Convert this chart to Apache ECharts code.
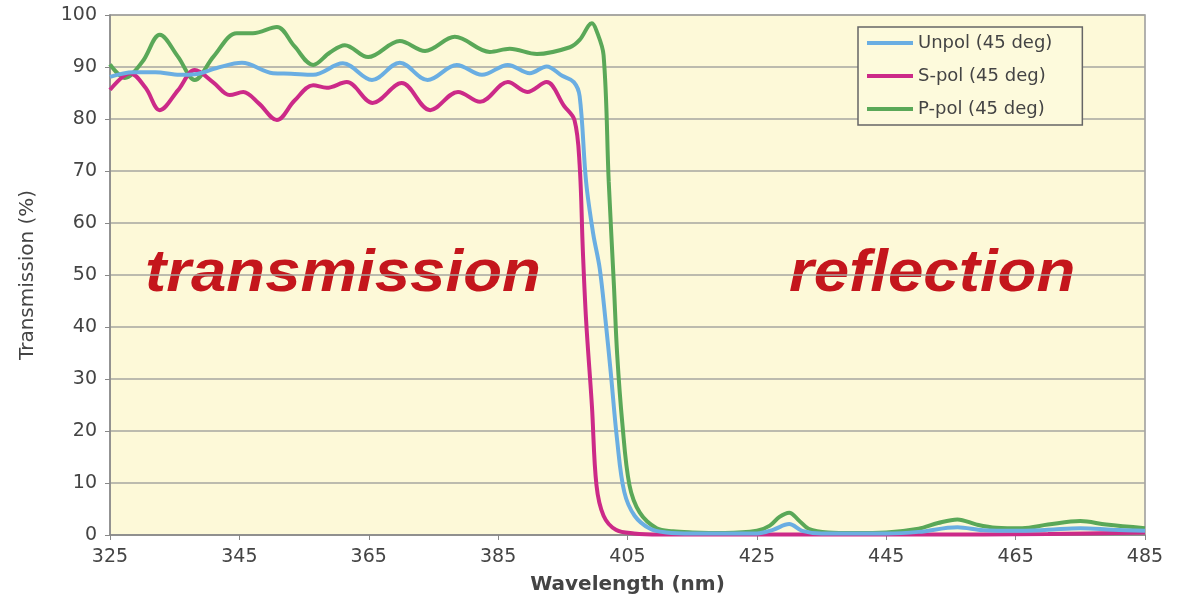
<!DOCTYPE html>
<html>
<head>
<meta charset="utf-8">
<script src="https://cdn.jsdelivr.net/npm/echarts@6/dist/echarts.min.js"></script>
<style>html,body{margin:0;padding:0;background:#fff}#c{width:1195px;height:601px}</style>
</head>
<body>
<div id="c"></div>
<script>
const X0 = 325;
const xTickLabels = [325,345,365,385,405,425,445,465,485];
const seriesNames = ['Unpol (45 deg)','S-pol (45 deg)','P-pol (45 deg)'];
const unpol = [[325,88.1],[328.6,89.0],[332,89],[335.8,88.5],[338.1,88.6],[341.5,89.8],[345.4,90.8],[350.2,88.8],[353,88.7],[356.4,88.5],[361,90.7],[365.5,87.5],[369.8,90.8],[374.1,87.5],[378.6,90.4],[382.5,88.5],[386.5,90.4],[389.9,88.8],[392.5,90.1],[394.9,88.3],[396.7,87.1],[397.6,84.4],[398.6,67.9],[399.7,57.9],[400.7,51.3],[401.6,41.3],[402.4,31.4],[403.4,18.2],[404.5,8.3],[406.1,3.7],[408.5,1.2],[411,0.5],[415,0.3],[425,0.3],[427.5,1],[430,2.1],[432,0.8],[435,0.3],[445,0.3],[450,0.6],[456,1.5],[460,0.9],[465,0.8],[470,1.0],[475,1.3],[480,1.0],[485,0.8]];
const spol = [[325,85.6],[328.1,88.8],[330.5,86],[332.7,81.7],[335.5,85.5],[338.1,89.4],[341,87],[343.5,84.6],[345.6,85.2],[348,83],[350.8,79.8],[353.5,83.5],[356.4,86.5],[358.5,86],[361.6,87.1],[365.6,83.1],[370.1,86.9],[374.5,81.7],[378.8,85.2],[382.2,83.3],[386.5,87.1],[389.5,85.2],[392.5,87.1],[395.2,82.5],[396.8,79.8],[397.6,71.2],[398.1,54.6],[398.6,41.3],[399.5,24.8],[400.2,9.6],[401.3,3.7],[403.2,1],[406,0.3],[410,0.1],[430,0.1],[450,0.1],[470,0.2],[485,0.5]];
const ppol = [[325,90.5],[327.3,87.9],[330,91],[332.7,96.2],[335.5,92],[338.1,87.5],[341,92],[344.6,96.5],[347.1,96.5],[350.8,97.7],[353.5,94],[356.4,90.4],[359,92.8],[361.3,94.2],[364.9,91.9],[369.8,95.0],[373.7,93.1],[378.3,95.8],[383.7,92.9],[386.8,93.5],[391,92.5],[396.1,93.8],[397.6,95.2],[399.5,98.4],[400.2,97],[401.3,92.3],[402.1,67.9],[402.9,48],[403.4,34.8],[404.2,21.5],[405.3,9.6],[406.9,4.3],[409.5,1.3],[412,0.7],[415,0.5],[420,0.4],[425,0.8],[427,1.8],[428.5,3.5],[430,4.3],[431.5,2.8],[433,1.2],[436,0.5],[440,0.4],[445,0.5],[450,1.2],[453,2.3],[456,3.0],[459,2.0],[462,1.4],[466,1.3],[470,2.0],[475,2.7],[479,2.0],[485,1.3]];
const colors = ['#6aaee2','#cc2a88','#5aa858'];

const FONT = '"DejaVu Sans", Verdana, sans-serif';
const shift = d => d.map(p => [p[0] - X0, p[1]]);
const chart = echarts.init(document.getElementById('c'));
const mk = (name, data, color, z) => ({
  name, type: 'line', data: shift(data), smooth: 0.35, showSymbol: false, z,
  lineStyle: {color, width: 4}, itemStyle: {color}
});
chart.setOption({
  animation: false,
  backgroundColor: '#ffffff',
  grid: {left: 110, right: 50, top: 15, bottom: 66, show: true, backgroundColor: '#fdf9d8', borderColor: '#999', borderWidth: 1.5},
  legend: {
    orient: 'vertical', left: 858, top: 27, padding: [7, 30, 7, 9], itemGap: 15,
    itemWidth: 46, itemHeight: 4, icon: 'rect',
    backgroundColor: '#fdfadc', borderColor: '#666', borderWidth: 1.5,
    textStyle: {fontFamily: FONT, fontSize: 18, color: '#444'},
    data: seriesNames
  },
  xAxis: {
    type: 'value', min: 0, max: xTickLabels[xTickLabels.length-1] - X0, interval: 20,
    name: 'Wavelength (nm)', nameLocation: 'middle', nameGap: 40,
    nameTextStyle: {fontFamily: FONT, fontSize: 20, fontWeight: 'bold', color: '#444'},
    axisLine: {lineStyle: {color: '#888', width: 1.5}},
    axisTick: {show: true, length: 5, lineStyle: {color: '#888'}},
    splitLine: {show: false},
    axisLabel: {formatter: v => String(v + X0), fontFamily: FONT, fontSize: 19, color: '#444', margin: 13}
  },
  yAxis: {
    type: 'value', min: 0, max: 100, interval: 10,
    name: 'Transmission (%)', nameLocation: 'middle', nameGap: 72,
    nameTextStyle: {fontFamily: FONT, fontSize: 20, color: '#444'},
    axisLine: {show: true, lineStyle: {color: '#888', width: 1.5}},
    axisTick: {show: true, length: 5, lineStyle: {color: '#888'}},
    splitLine: {show: true, lineStyle: {color: '#a6a6a0', width: 1.5}},
    axisLabel: {fontFamily: FONT, fontSize: 19, color: '#444', margin: 13}
  },
  graphic: [
    {type: 'text', left: 145, top: 244, scaleX: 1.06, style: {text: 'transmission', font: 'italic bold 60px "Liberation Sans", Arial, sans-serif', fill: '#c4161c'}},
    {type: 'text', left: 789, top: 244, scaleX: 1.06, style: {text: 'reflection', font: 'italic bold 60px "Liberation Sans", Arial, sans-serif', fill: '#c4161c'}}
  ],
  series: [
    mk(seriesNames[0], unpol, colors[0], 3),
    mk(seriesNames[1], spol, colors[1], 2),
    mk(seriesNames[2], ppol, colors[2], 1)
  ]
});
</script>
</body>
</html>
